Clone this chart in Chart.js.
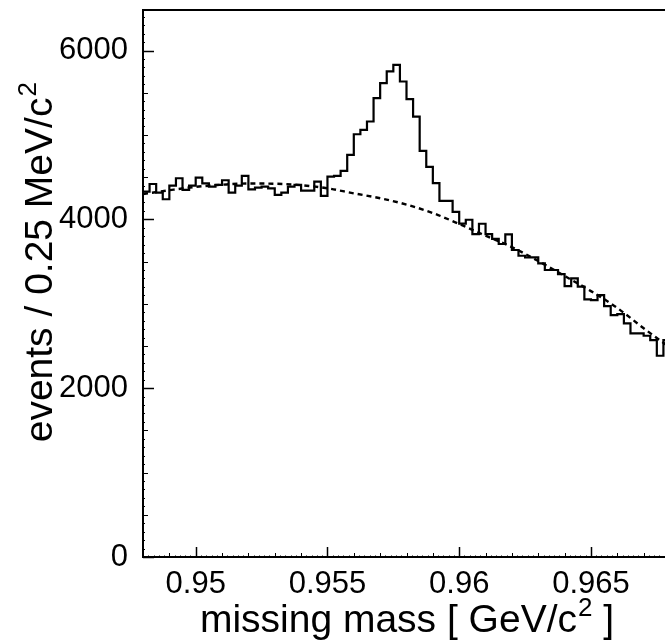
<!DOCTYPE html>
<html>
<head>
<meta charset="utf-8">
<script src="https://cdn.jsdelivr.net/npm/chart.js@4.4.1/dist/chart.umd.min.js"></script>
<style>
html, body { margin: 0; padding: 0; background: #fff; overflow: hidden; }
#wrap { width: 672px; height: 642px; position: relative; }
</style>
</head>
<body>
<div id="wrap"><canvas id="mass_chart"></canvas></div>
<script>
// histogram binning (GeV/c^2)
var xMin = 0.948;
var xMax = 0.968;
var binWidth = 0.00025;

// events per 0.25 MeV bin
var counts = [
    4328, 4419, 4316, 4238, 4400, 4487, 4348, 4400, 4495, 4427,
    4388, 4408, 4463, 4316, 4400, 4514, 4356, 4375, 4388, 4368,
    4289, 4316, 4388, 4408, 4340, 4340, 4447, 4277, 4506, 4514,
    4574, 4763, 5008, 5060, 5159, 5435, 5613, 5752, 5831, 5633,
    5424, 5218, 4811, 4621, 4428, 4218, 4218, 4088, 3950, 3995,
    3825, 3948, 3825, 3768, 3708, 3823, 3637, 3569, 3550, 3550,
    3479, 3400, 3400, 3352, 3210, 3301, 3202, 3052, 3044, 3103,
    2973, 2866, 2878, 2767, 2649, 2649, 2621, 2570, 2384, 2570
];

// background fit (dashed), sampled off the plot
var bgMass = [0.948, 0.949, 0.950, 0.951, 0.952, 0.953, 0.954, 0.955, 0.956, 0.957, 0.958,
              0.959, 0.960, 0.961, 0.962, 0.963, 0.964, 0.965, 0.966, 0.967, 0.968];
var bgEvents = [4300, 4345, 4385, 4410, 4425, 4422, 4405, 4368, 4308, 4250, 4175,
                4075, 3945, 3806, 3671, 3506, 3329, 3150, 2950, 2710, 2480];

var xTicks = [0.95, 0.955, 0.96, 0.965];
var xTickLabels = ['0.95', '0.955', '0.96', '0.965'];
var yTicks = [0, 2000, 4000, 6000];
var yMax = 6480;

// axis titles: [text, superscript, text]
var xTitle = ['missing mass [ GeV/c', '2', ' ]'];
var yTitle = ['events / 0.25 MeV/c', '2', ''];

var fontFamily = '"Liberation Sans", Arial, Helvetica, sans-serif';

var histPoints = counts.map(function (c, i) {
    return {x: xMin + i * binWidth, y: c};
});
histPoints.push({x: xMax, y: counts[counts.length - 1]});

var bgPoints = bgMass.map(function (m, i) {
    return {x: m, y: bgEvents[i]};
});

// writes a title with a raised superscript, centred on (0,0) of the current transform
function drawTitle(ctx, parts, size) {
    var big = size + 'px ' + fontFamily;
    var small = Math.round(size * 0.66) + 'px ' + fontFamily;
    ctx.font = big;
    var w0 = ctx.measureText(parts[0]).width;
    var w2 = ctx.measureText(parts[2]).width;
    ctx.font = small;
    var w1 = ctx.measureText(parts[1]).width;
    var x = -(w0 + w1 + w2) / 2;
    ctx.textAlign = 'left';
    ctx.textBaseline = 'alphabetic';
    ctx.font = big;
    ctx.fillText(parts[0], x, 0);
    ctx.font = small;
    ctx.fillText(parts[1], x + w0 + 1, -size * 0.4);
    ctx.font = big;
    ctx.fillText(parts[2], x + w0 + w1 + 1, 0);
}

// ROOT style frame with ticks pointing inwards
var rootFrame = {
    id: 'rootFrame',
    afterDatasetsDraw: function (chart) {
        var ctx = chart.ctx, a = chart.chartArea;
        var xs = chart.scales.x, ys = chart.scales.y;
        ctx.save();
        ctx.strokeStyle = '#000';

        // x ticks every 0.0002, minor 0.001, major 0.005
        var nx = Math.round((xMax - xMin) / 0.0002);
        var k0 = Math.round(xMin / 0.0002);
        for (var k = 0; k <= nx; k++) {
            var idx = k0 + k, len = 1.5, lw = 1;
            if (idx % 25 === 0) { len = 10; lw = 1.5; }
            else if (idx % 5 === 0) { len = 4; }
            var px = Math.round(xs.getPixelForValue(idx * 0.0002)) + 0.5;
            ctx.lineWidth = lw;
            ctx.beginPath();
            ctx.moveTo(px, a.bottom);
            ctx.lineTo(px, a.bottom - len);
            ctx.stroke();
        }

        // y ticks every 100, minor 500, major 2000
        for (var v = 0; v <= yMax; v += 100) {
            var ylen = 2, ylw = 1;
            if (v % 2000 === 0) { ylen = 11; ylw = 1.5; }
            else if (v % 500 === 0) { ylen = 5; }
            var py = Math.round(ys.getPixelForValue(v)) + 0.5;
            ctx.lineWidth = ylw;
            ctx.beginPath();
            ctx.moveTo(a.left, py);
            ctx.lineTo(a.left + ylen, py);
            ctx.stroke();
        }

        ctx.lineWidth = 2;
        ctx.strokeRect(a.left, a.top, a.right - a.left, a.bottom - a.top);

        // axis titles
        ctx.fillStyle = '#000';
        ctx.save();
        ctx.translate((a.left + a.right) / 2, 632);
        drawTitle(ctx, xTitle, 39);
        ctx.restore();

        ctx.save();
        ctx.translate(52, a.top + (a.bottom - a.top) * 0.462);
        ctx.rotate(-Math.PI / 2);
        drawTitle(ctx, yTitle, 39);
        ctx.restore();

        ctx.restore();
    }
};

var ctx = document.getElementById('mass_chart').getContext('2d');
var massChart = new Chart(ctx, {
    type: 'line',
    data: {
        datasets: [{
            label: 'data',
            data: histPoints,
            stepped: true,
            borderColor: '#000',
            borderWidth: 2.2,
            borderJoinStyle: 'miter',
            pointRadius: 0,
            fill: false
        }, {
            label: 'background',
            data: bgPoints,
            borderColor: '#000',
            borderWidth: 2.4,
            borderDash: [5, 4],
            cubicInterpolationMode: 'monotone',
            pointRadius: 0,
            fill: false
        }]
    },
    options: {
        responsive: true,
        maintainAspectRatio: false,
        animation: false,
        events: [],
        layout: {padding: {left: 0, right: 2, top: 10, bottom: 0}},
        plugins: {
            legend: {display: false},
            tooltip: {enabled: false}
        },
        scales: {
            x: {
                type: 'linear',
                min: xMin,
                max: xMax,
                grid: {display: false, drawTicks: false, tickLength: 0},
                border: {display: false},
                afterBuildTicks: function (scale) {
                    scale.ticks = xTicks.map(function (t) { return {value: t}; });
                },
                afterFit: function (scale) {
                    scale.height = 85;
                    scale.paddingLeft = 0;
                    scale.paddingRight = 0;
                },
                ticks: {
                    padding: 9,
                    color: '#000',
                    maxRotation: 0,
                    autoSkip: false,
                    font: {family: fontFamily, size: 31},
                    callback: function (value, index) { return xTickLabels[index]; }
                },
                title: {display: false}
            },
            y: {
                min: 0,
                max: yMax,
                grid: {display: false, drawTicks: false, tickLength: 0},
                border: {display: false},
                afterBuildTicks: function (scale) {
                    scale.ticks = yTicks.map(function (t) { return {value: t}; });
                },
                afterFit: function (scale) {
                    scale.width = 143;
                    scale.paddingTop = 0;
                    scale.paddingBottom = 0;
                },
                ticks: {
                    padding: 15,
                    color: '#000',
                    autoSkip: false,
                    font: {family: fontFamily, size: 31},
                    callback: function (value) { return String(value); }
                },
                title: {display: false}
            }
        }
    },
    plugins: [rootFrame]
});
</script>
</body>
</html>
